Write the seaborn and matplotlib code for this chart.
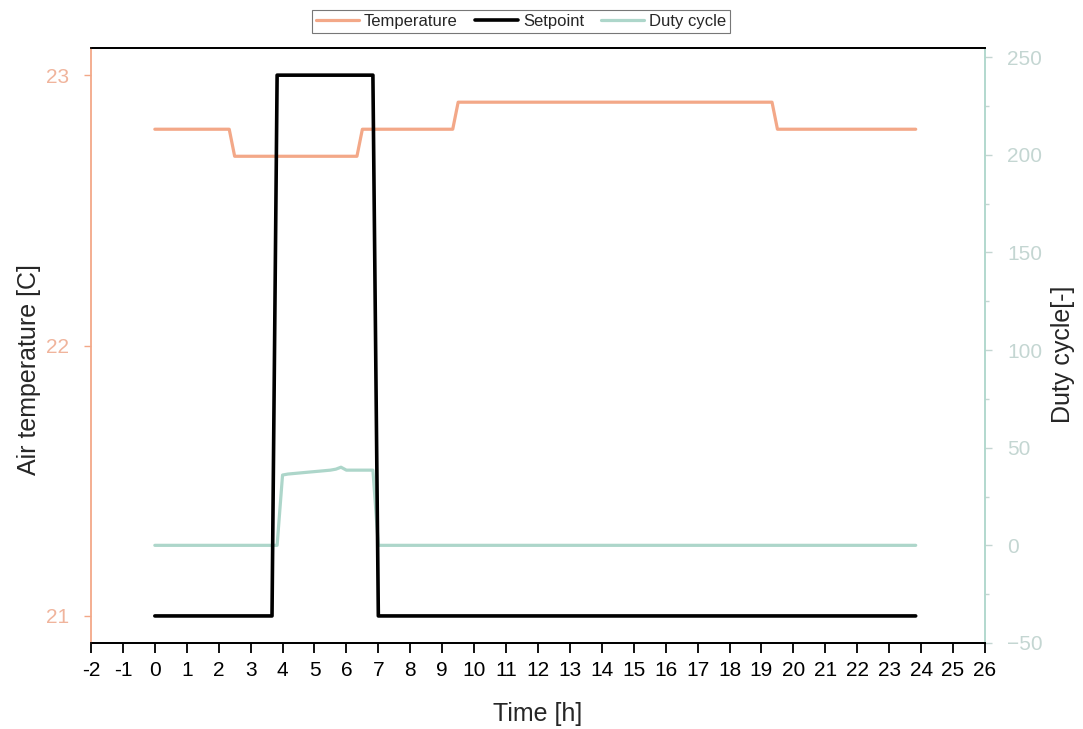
import matplotlib
matplotlib.use("Agg")
import matplotlib.pyplot as plt
import seaborn as sns
import pandas as pd
from matplotlib.ticker import AutoMinorLocator
from matplotlib.lines import Line2D

# ---- data ----
temp_t = [0.0, 2.33, 2.5, 6.33, 6.5, 9.33, 9.5, 19.33, 19.5, 23.83]
temp_v = [22.8, 22.8, 22.7, 22.7, 22.8, 22.8, 22.9, 22.9, 22.8, 22.8]

setp_t = [0.0, 3.67, 3.83, 6.83, 7.0, 23.83]
setp_v = [21, 21, 23, 23, 21, 21]

duty_t = [0.0, 3.83, 4.0, 4.17, 4.5, 4.83, 5.17, 5.5, 5.67, 5.83, 6.0, 6.83, 7.0, 23.83]
duty_v = [0, 0, 36, 36.5, 37, 37.5, 38, 38.5, 39, 40, 38.5, 38.5, 0, 0]

x_ticks = list(range(-2, 27))

C_TEMP = "#F3A888"
C_TEMP_TXT = "#F0B49C"
C_DUTY = "#ADD6CA"
C_DUTY_TXT = "#C4D6D2"

sns.set_style("ticks")
plt.rcParams['font.family'] = ['Liberation Sans', 'DejaVu Sans']

fig = plt.figure(figsize=(10.83, 7.29), dpi=100)
ax = fig.add_axes([0.084, 0.118, 0.9095 - 0.084, 0.934 - 0.118])
ax2 = ax.twinx()

df_temp = pd.DataFrame({"t": temp_t, "v": temp_v})
df_setp = pd.DataFrame({"t": setp_t, "v": setp_v})
df_duty = pd.DataFrame({"t": duty_t, "v": duty_v})

sns.lineplot(data=df_duty, x="t", y="v", ax=ax2, color=C_DUTY, lw=2.3,
             sort=False, estimator=None, legend=False, zorder=1)
sns.lineplot(data=df_temp, x="t", y="v", ax=ax, color=C_TEMP, lw=2.3,
             sort=False, estimator=None, legend=False, zorder=2)
sns.lineplot(data=df_setp, x="t", y="v", ax=ax, color="black", lw=2.6,
             sort=False, estimator=None, legend=False, zorder=3)

ax.set_zorder(ax2.get_zorder() + 1)
ax.patch.set_visible(False)

ax.set_xlim(-2, 26)
ax.set_ylim(20.9, 23.1)
ax2.set_ylim(-50, 254.6)

ax.set_xticks(x_ticks)
ax.set_xticklabels([str(v) for v in x_ticks])
ax.set_yticks([21, 22, 23])
ax2.set_yticks([-50, 0, 50, 100, 150, 200, 250])
ax2.yaxis.set_minor_locator(AutoMinorLocator(2))

ax.tick_params(axis="x", direction="out", length=7, width=1.3, colors="black",
               labelsize=15, pad=6)
ax.tick_params(axis="y", direction="out", length=5, width=1, colors=C_TEMP,
               labelcolor=C_TEMP_TXT, labelsize=15, pad=11)
ax2.tick_params(axis="y", which="major", direction="out", length=5, width=1,
                colors=C_DUTY_TXT, labelcolor=C_DUTY_TXT, labelsize=15, pad=11)
ax2.tick_params(axis="y", which="minor", direction="out", length=3, width=1,
                colors=C_DUTY_TXT)

for a in (ax, ax2):
    a.spines["top"].set_visible(True)
    a.spines["top"].set_color("black")
    a.spines["top"].set_linewidth(1.3)
    a.spines["bottom"].set_color("black")
    a.spines["bottom"].set_linewidth(1.3)
ax.spines["left"].set_color(C_TEMP)
ax.spines["left"].set_linewidth(1.3)
ax.spines["right"].set_visible(False)
ax2.spines["left"].set_visible(False)
ax2.spines["right"].set_visible(True)
ax2.spines["right"].set_color(C_DUTY)
ax2.spines["right"].set_linewidth(1.3)

ax.set_xlabel("Time [h]", fontsize=18, labelpad=16)
ax.set_ylabel("Air temperature [C]", fontsize=18)
ax2.set_ylabel("Duty cycle[-]", fontsize=18)
ax.yaxis.set_label_coords(-0.056, 0.46)
ax2.yaxis.set_label_coords(1.074, 0.485)

handles = [Line2D([], [], color=C_TEMP, lw=2.3),
           Line2D([], [], color="black", lw=2.6),
           Line2D([], [], color=C_DUTY, lw=2.3)]
leg = fig.legend(handles, ["Temperature", "Setpoint", "Duty cycle"],
                 loc="upper center", bbox_to_anchor=(0.481, 0.998), ncol=3,
                 fontsize=12, frameon=True, fancybox=False, framealpha=1,
                 edgecolor="#777777", handlelength=2.6, columnspacing=1.0,
                 handletextpad=0.3, borderpad=0.25)
leg.get_frame().set_linewidth(0.8)

fig.savefig("out.png", dpi=100)
